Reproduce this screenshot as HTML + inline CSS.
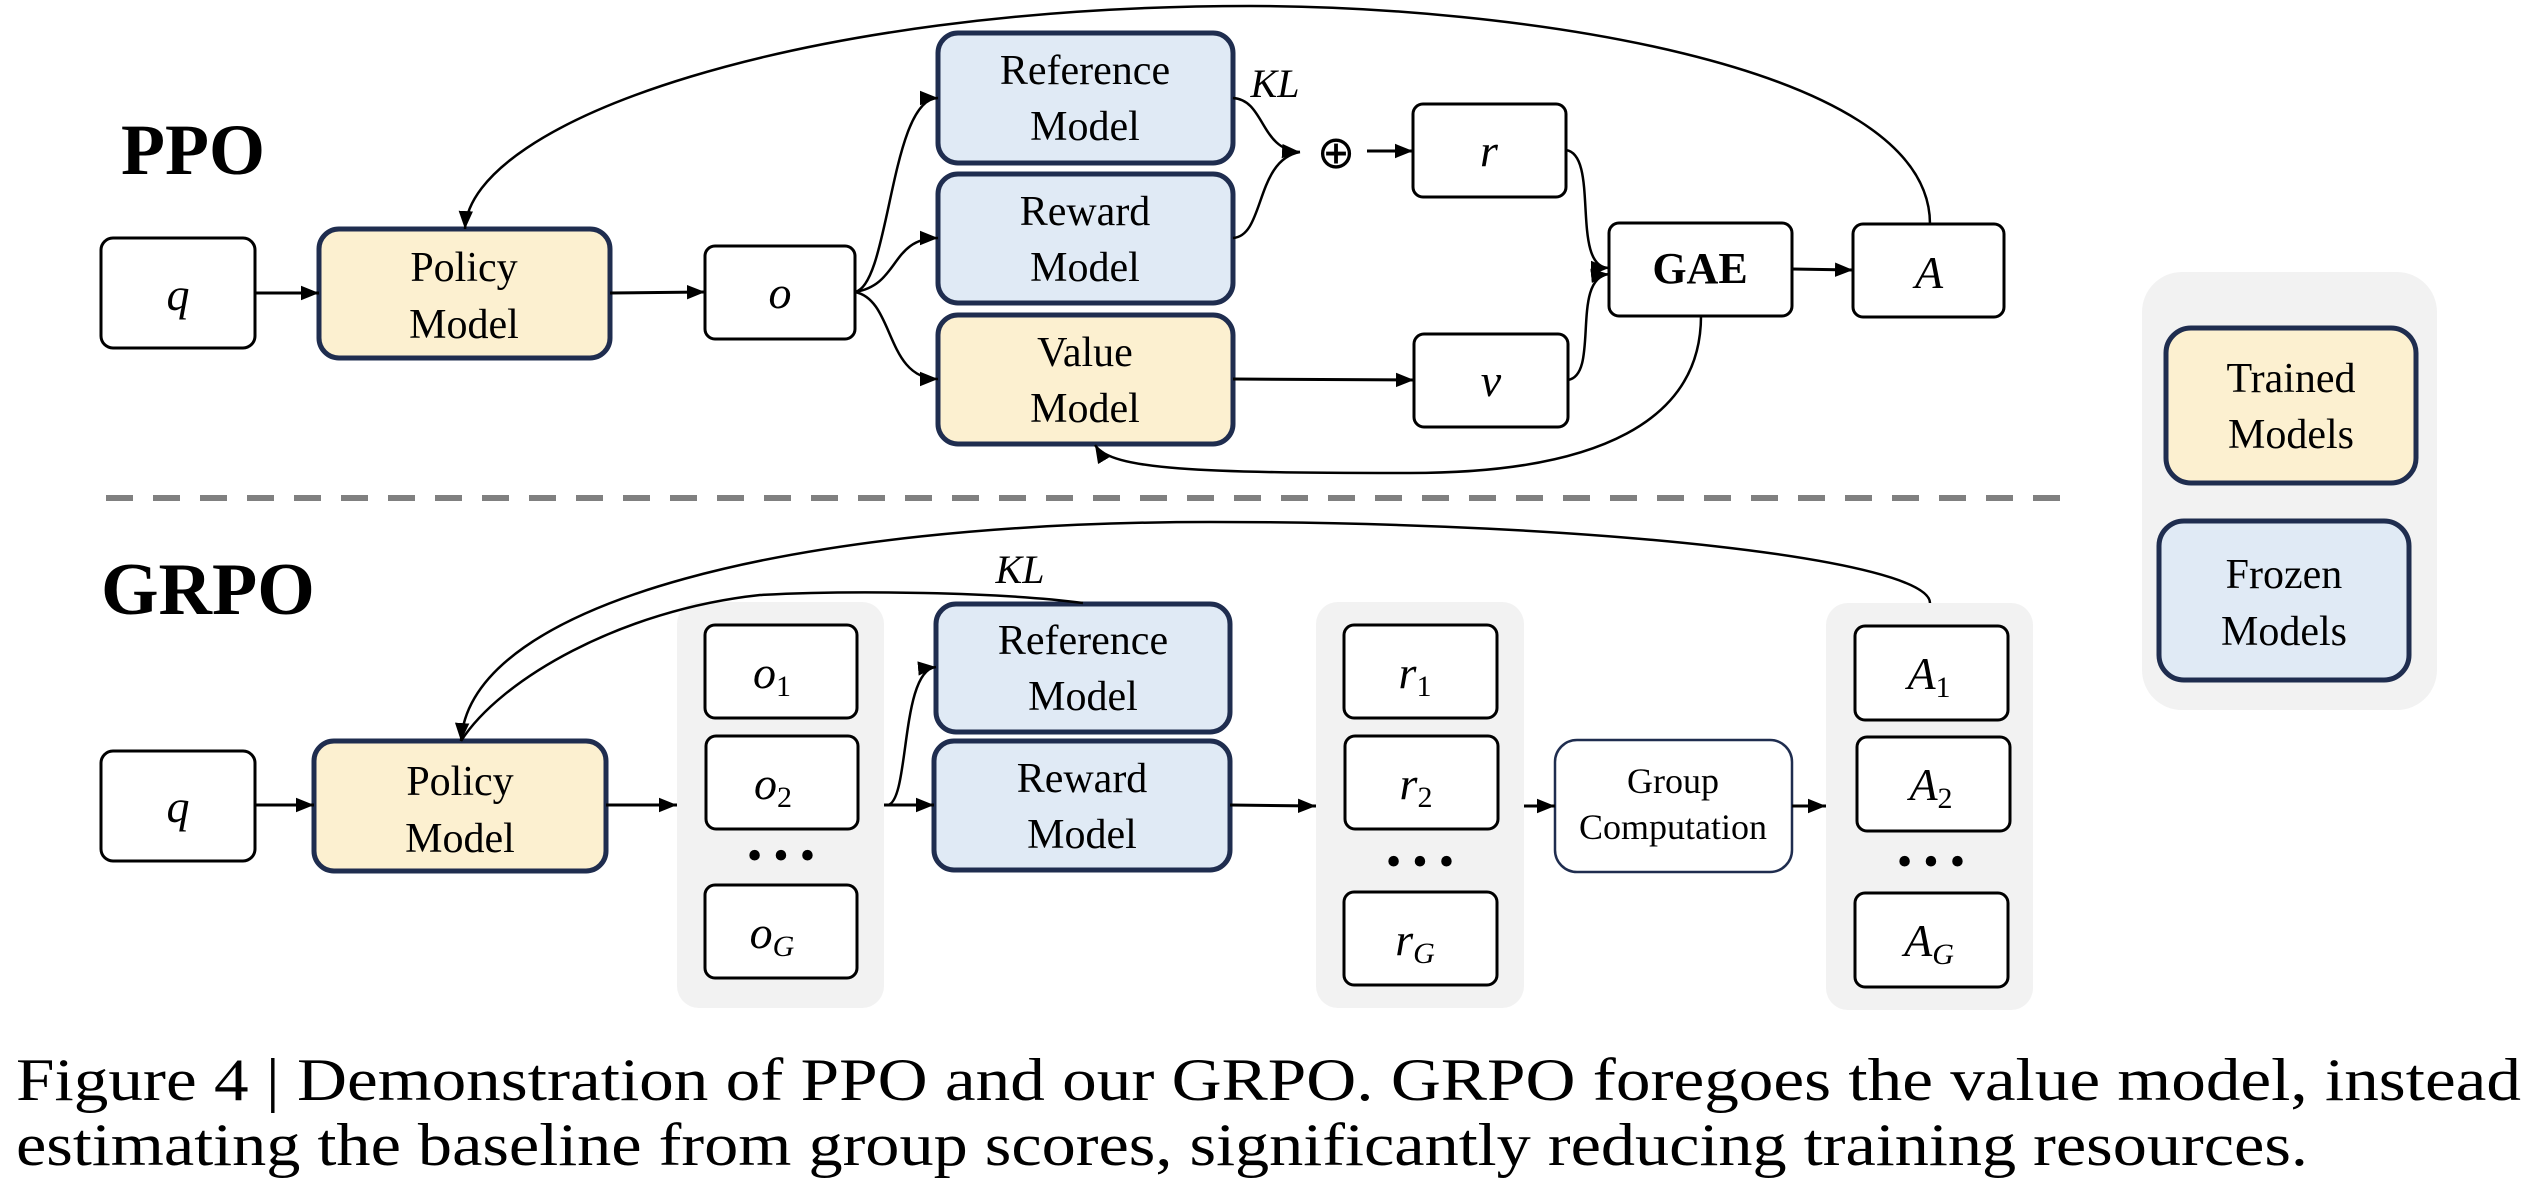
<!DOCTYPE html>
<html><head><meta charset="utf-8"><style>
html,body{margin:0;padding:0;background:#fff;}
svg{display:block;}
text{font-family:"Liberation Serif",serif;fill:#000;}
.m{font-size:42px;text-anchor:middle;}
.i{font-style:italic;font-size:46px;text-anchor:middle;}
.sub{font-style:normal;font-size:30px;}
.subi{font-style:italic;font-size:30px;}
</style></head><body>
<svg width="2534" height="1204" viewBox="0 0 2534 1204" xmlns="http://www.w3.org/2000/svg">
<defs>
<marker id="a2" viewBox="0 0 10 10" refX="10" refY="5" markerWidth="18" markerHeight="18" markerUnits="userSpaceOnUse" orient="auto">
<path d="M0,1 L10,5 L0,9 z" fill="#000"/></marker>
</defs>
<g fill="none" stroke="#000" stroke-width="3">
<rect x="101" y="238" width="154" height="110" rx="12" fill="#fff"/>
<rect x="319" y="229" width="291" height="129" rx="20" fill="#fcf0d0" stroke="#1f2d4f" stroke-width="5"/>
<rect x="705" y="246" width="150" height="93" rx="10" fill="#fff"/>
<rect x="938" y="33" width="295" height="130" rx="20" fill="#e0eaf5" stroke="#1f2d4f" stroke-width="5"/>
<rect x="938" y="174" width="295" height="129" rx="20" fill="#e0eaf5" stroke="#1f2d4f" stroke-width="5"/>
<rect x="938" y="315" width="295" height="129" rx="20" fill="#fcf0d0" stroke="#1f2d4f" stroke-width="5"/>
<rect x="1413" y="104" width="153" height="93" rx="10" fill="#fff"/>
<rect x="1609" y="223" width="183" height="93" rx="10" fill="#fff"/>
<rect x="1853" y="224" width="151" height="93" rx="10" fill="#fff"/>
<rect x="1414" y="334" width="154" height="93" rx="10" fill="#fff"/>
<rect x="2142" y="272" width="295" height="438" rx="40" fill="#f2f2f2" stroke="none"/>
<rect x="2166" y="328" width="250" height="155" rx="25" fill="#fcf0d0" stroke="#1f2d4f" stroke-width="5"/>
<rect x="2159" y="521" width="250" height="159" rx="25" fill="#e0eaf5" stroke="#1f2d4f" stroke-width="5"/>
<path d="M255,293 L319,293" marker-end="url(#a2)"/>
<path d="M610,293 L705,292" marker-end="url(#a2)"/>
<path d="M855,292 C890,285 890,98 938,98" stroke-width="2.5" marker-end="url(#a2)"/>
<path d="M855,292 C900,285 890,238 938,238" stroke-width="2.5" marker-end="url(#a2)"/>
<path d="M855,292 C895,300 885,379 938,379" stroke-width="2.5" marker-end="url(#a2)"/>
<path d="M1233,98 C1265,100 1260,150 1300,152" stroke-width="2.5" marker-end="url(#a2)"/>
<path d="M1233,238 C1265,236 1255,160 1300,152" stroke-width="2.5"/>
<path d="M1367,151 L1413,151" marker-end="url(#a2)"/>
<path d="M1566,150 C1600,155 1570,268 1609,268" stroke-width="2.5" marker-end="url(#a2)"/>
<path d="M1568,380 C1600,375 1570,278 1609,274" stroke-width="2.5" marker-end="url(#a2)"/>
<path d="M1792,269 L1853,270" marker-end="url(#a2)"/>
<path d="M1233,379 L1414,380" marker-end="url(#a2)"/>
<path d="M1930,224 C1930,60 1500,6 1250,6 C800,6 470,120 465,229" stroke-width="2.5" marker-end="url(#a2)"/>
<path d="M1701,316 C1701,420 1600,473 1410,473 C1200,473 1110,470 1095,445" stroke-width="2.5" marker-end="url(#a2)"/>
<line x1="106" y1="498" x2="2075" y2="498" stroke="#808080" stroke-width="6" stroke-dasharray="27,20"/>
<rect x="677" y="602" width="207" height="406" rx="22" fill="#f2f2f2" stroke="none"/>
<rect x="1316" y="602" width="208" height="406" rx="22" fill="#f2f2f2" stroke="none"/>
<rect x="1826" y="603" width="207" height="407" rx="22" fill="#f2f2f2" stroke="none"/>
<rect x="101" y="751" width="154" height="110" rx="12" fill="#fff"/>
<rect x="314" y="741" width="292" height="130" rx="20" fill="#fcf0d0" stroke="#1f2d4f" stroke-width="5"/>
<rect x="705" y="625" width="152" height="93" rx="10" fill="#fff"/>
<rect x="706" y="736" width="152" height="93" rx="10" fill="#fff"/>
<rect x="705" y="885" width="152" height="93" rx="10" fill="#fff"/>
<rect x="936" y="604" width="294" height="128" rx="20" fill="#e0eaf5" stroke="#1f2d4f" stroke-width="5"/>
<rect x="934" y="741" width="296" height="129" rx="20" fill="#e0eaf5" stroke="#1f2d4f" stroke-width="5"/>
<rect x="1344" y="625" width="153" height="93" rx="10" fill="#fff"/>
<rect x="1345" y="736" width="153" height="93" rx="10" fill="#fff"/>
<rect x="1344" y="892" width="153" height="93" rx="10" fill="#fff"/>
<rect x="1555" y="740" width="237" height="132" rx="22" fill="#fff" stroke="#1f2d4f" stroke-width="2.5"/>
<rect x="1855" y="626" width="153" height="94" rx="10" fill="#fff"/>
<rect x="1857" y="737" width="153" height="94" rx="10" fill="#fff"/>
<rect x="1855" y="893" width="153" height="94" rx="10" fill="#fff"/>
<path d="M255,805 L314,805" marker-end="url(#a2)"/>
<path d="M606,805 L677,805" marker-end="url(#a2)"/>
<path d="M884,805 L934,805" marker-end="url(#a2)"/>
<path d="M888,805 C910,800 900,670 936,667" stroke-width="2.5" marker-end="url(#a2)"/>
<path d="M1230,805 L1316,806" marker-end="url(#a2)"/>
<path d="M1524,806 L1555,806" marker-end="url(#a2)"/>
<path d="M1792,806 L1826,806" marker-end="url(#a2)"/>
<path d="M1930,603 C1930,560 1600,522 1210,522 C800,522 470,600 461,741" stroke-width="2.5" marker-end="url(#a2)"/>
<path d="M1083,603 C1000,592 850,590 760,595 C620,610 500,680 461,741" stroke-width="2.5"/>
</g>
<text x="121" y="174" style="font-size:72px;font-weight:bold">PPO</text>
<text x="101" y="614" style="font-size:74px;font-weight:bold">GRPO</text>
<text class="i" x="178" y="310">q</text>
<text class="m" x="464" y="281">Policy</text><text class="m" x="464" y="338">Model</text>
<text class="i" x="780" y="308">o</text>
<text class="m" x="1085" y="84">Reference</text><text class="m" x="1085" y="140">Model</text>
<text class="m" x="1085" y="225">Reward</text><text class="m" x="1085" y="281">Model</text>
<text class="m" x="1085" y="366">Value</text><text class="m" x="1085" y="422">Model</text>
<text class="i" x="1275" y="97" style="font-size:40px">KL</text>
<text x="1336" y="168" style="font-size:46px;text-anchor:middle">⊕</text>
<text class="i" x="1489" y="166">r</text>
<text class="m" x="1700" y="283" style="font-size:44px;font-weight:bold">GAE</text>
<text class="i" x="1929" y="288">A</text>
<text class="i" x="1491" y="396">v</text>
<text class="m" x="2291" y="392">Trained</text><text class="m" x="2291" y="448">Models</text>
<text class="m" x="2284" y="588">Frozen</text><text class="m" x="2284" y="645">Models</text>
<text class="i" x="178" y="822">q</text>
<text class="m" x="460" y="795">Policy</text><text class="m" x="460" y="852">Model</text>
<text class="i" x="772" y="688">o<tspan class="sub" dy="8">1</tspan></text>
<text class="i" x="773" y="799">o<tspan class="sub" dy="8">2</tspan></text>
<text class="i" x="772" y="948">o<tspan class="subi" dy="8">G</tspan></text>
<text class="m" x="781" y="870" style="font-size:44px">• • •</text>
<text class="m" x="1083" y="654">Reference</text><text class="m" x="1083" y="710">Model</text>
<text class="m" x="1082" y="792">Reward</text><text class="m" x="1082" y="848">Model</text>
<text class="i" x="1020" y="583" style="font-size:40px">KL</text>
<text class="i" x="1415" y="688">r<tspan class="sub" dy="8">1</tspan></text>
<text class="i" x="1416" y="799">r<tspan class="sub" dy="8">2</tspan></text>
<text class="i" x="1415" y="955">r<tspan class="subi" dy="8">G</tspan></text>
<text class="m" x="1420" y="876" style="font-size:44px">• • •</text>
<text class="m" x="1673" y="793" style="font-size:36px">Group</text>
<text class="m" x="1673" y="839" style="font-size:36px">Computation</text>
<text class="i" x="1929" y="689">A<tspan class="sub" dy="8">1</tspan></text>
<text class="i" x="1931" y="800">A<tspan class="sub" dy="8">2</tspan></text>
<text class="i" x="1929" y="956">A<tspan class="subi" dy="8">G</tspan></text>
<text class="m" x="1931" y="876" style="font-size:44px">• • •</text>
<text x="16" y="1100" style="font-size:60px" textLength="2505" lengthAdjust="spacingAndGlyphs">Figure 4 | Demonstration of PPO and our GRPO. GRPO foregoes the value model, instead</text>
<text x="16" y="1165" style="font-size:60px" textLength="2292" lengthAdjust="spacingAndGlyphs">estimating the baseline from group scores, significantly reducing training resources.</text>
</svg>
</body></html>
